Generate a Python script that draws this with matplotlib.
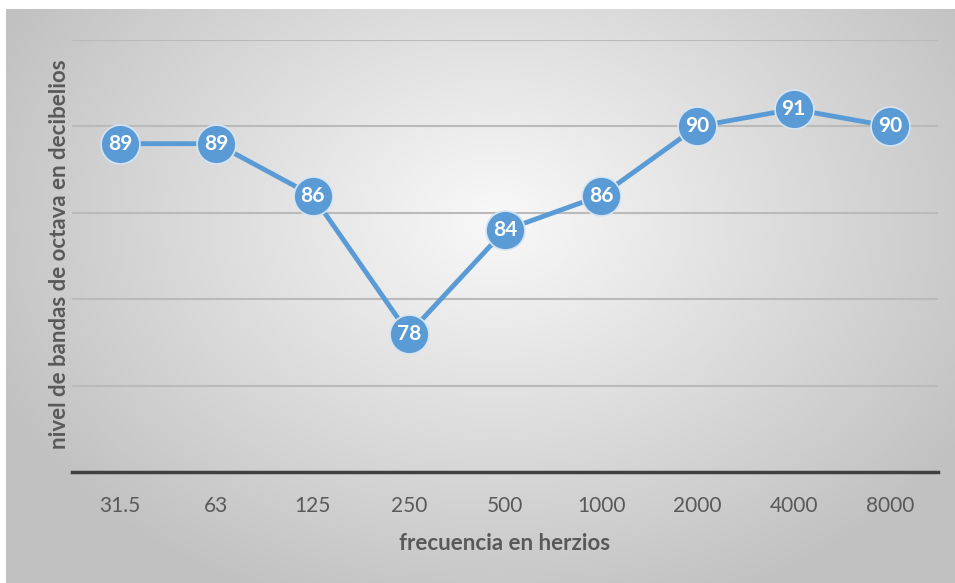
import numpy as np
import matplotlib.pyplot as plt

frecuencias = ["31.5", "63", "125", "250", "500", "1000", "2000", "4000", "8000"]
niveles = [89, 89, 86, 78, 84, 86, 90, 91, 90]

plt.rcParams['font.family'] = ['Lato', 'DejaVu Sans']

fig = plt.figure(figsize=(9.55, 5.83), dpi=100)

# fondo con degradado radial
bg = fig.add_axes([6 / 955, 0, 949 / 955, 574 / 583])
yy, xx = np.mgrid[0:574, 0:949]
r = np.sqrt(((xx - 490) / 560.0) ** 2 + ((yy - 210) / 420.0) ** 2)
g = np.clip(0.975 - 0.22 * r, 0.76, 1.0)
bg.imshow(np.dstack([g, g, g]), aspect='auto', extent=[0, 1, 0, 1])
bg.axis('off')

ax = fig.add_axes([72 / 955, 1 - 472 / 583, 866 / 955, 432 / 583])
ax.patch.set_alpha(0)
x = np.arange(len(frecuencias))
ax.plot(x, niveles, color='#5b9bd5', lw=3.5, marker='o', ms=28,
        mfc='#5b9bd5', mec='#d6e5f4', mew=1.2, zorder=3)
for xi, v in zip(x, niveles):
    ax.text(xi, v, str(v), color='white', fontsize=15, fontweight='bold',
            ha='center', va='center', zorder=4)

ax.set_xlim(-0.5, len(frecuencias) - 0.5)
ax.set_ylim(70, 95)
ax.set_yticks([75, 80, 85, 90, 95])
ax.yaxis.grid(True, color='#bababa', lw=1.5)
ax.set_axisbelow(True)
ax.tick_params(axis='y', left=False, labelleft=False)
ax.tick_params(axis='x', bottom=False, labelsize=15, labelcolor='#595959', pad=14)
ax.set_xticks(x)
ax.set_xticklabels(frecuencias)
for s in ['top', 'right', 'left']:
    ax.spines[s].set_visible(False)
ax.spines['bottom'].set_color('#404040')
ax.spines['bottom'].set_linewidth(2.5)

ax.set_xlabel("frecuencia en herzios", fontsize=16, fontweight='bold',
              color='#595959', labelpad=12)
ax.set_ylabel("nivel de bandas de octava en decibelios", fontsize=16,
              fontweight='bold', color='#595959')
ax.yaxis.set_label_coords(-0.002, 0.505)

fig.savefig("out.png", dpi=100)
